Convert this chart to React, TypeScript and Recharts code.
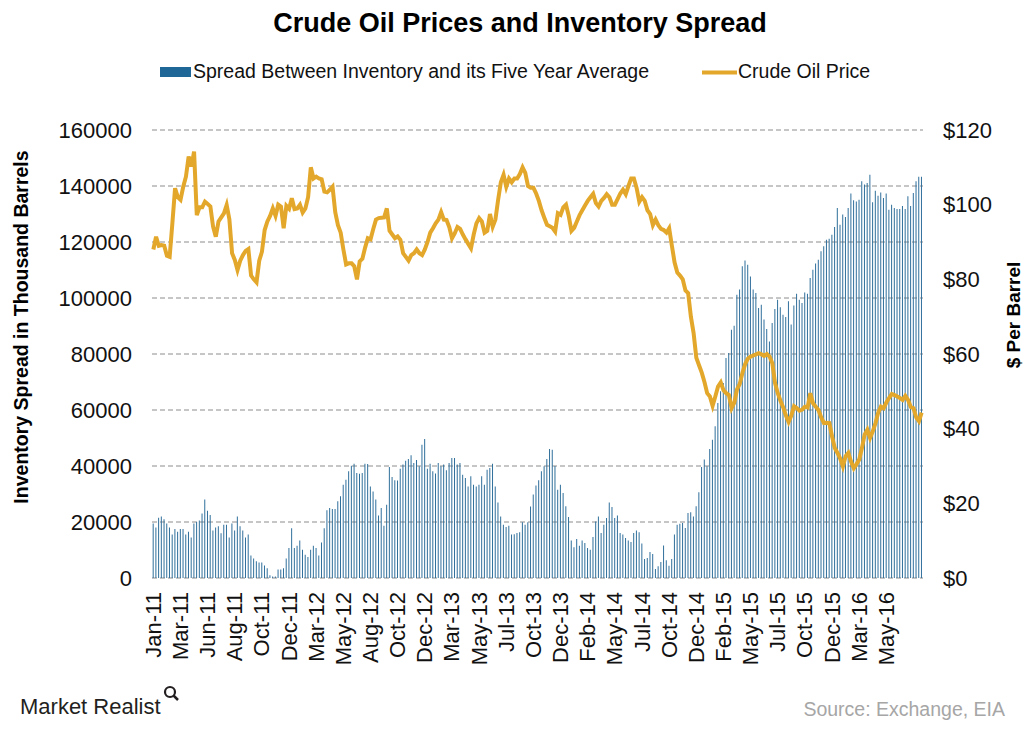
import React from 'react';
import { ComposedChart, Bar, Line, XAxis, YAxis, CartesianGrid } from 'recharts';

// weekly inventory spread vs five-year average (thousand barrels), Jan-11 .. Aug-16
const SPREAD = [
  19500, 18000, 21500, 22000, 21000, 19500, 18000, 15500, 17500, 16500,
  17500, 17500, 15500, 16500, 14500, 19500, 20000, 20500, 23000, 28000,
  24000, 22500, 17000, 18000, 18500, 16000, 19000, 19000, 14500, 19500,
  17000, 22000, 18500, 17000, 14500, 15500, 8000, 7000, 6000, 5500,
  5500, 4500, 3500, 1000, 500, 500, 3000, 3000, 3500, 7000,
  10700, 17800, 10700, 11500, 13400, 10100, 8300, 7500, 10100, 11500,
  10700, 8000, 12700, 17800, 24200, 25000, 24600, 24600, 27400, 29200,
  33300, 35100, 38100, 40100, 40800, 37500, 37200, 37500, 40800, 40700,
  32700, 30900, 28000, 22300, 25000, 18700, 26200, 39600, 36100, 34900,
  34800, 39000, 40500, 41900, 42500, 43800, 41100, 42100, 39900, 47600,
  49600, 39000, 40800, 38100, 37300, 41100, 39900, 40500, 38500, 41100,
  42900, 42900, 40500, 41100, 36900, 35700, 32700, 36300, 33300, 32700,
  33300, 36300, 33300, 38700, 39300, 40800, 32700, 27000, 22000, 19000,
  18200, 18700, 15500, 15600, 16100, 16300, 19900, 19000, 19900, 25500,
  29800, 33000, 34900, 38100, 39900, 42500, 46100, 45800, 40000, 31500,
  33300, 30400, 25600, 21800, 13400, 11000, 13900, 11500, 13400, 12500,
  10700, 10100, 14600, 20200, 22000, 16100, 19000, 21400, 27000, 25400,
  21400, 22300, 16100, 15500, 14300, 13400, 12900, 16100, 17000, 16300,
  12300, 6800, 7100, 9300, 8600, 3200, 4200, 5700, 11600, 6300,
  4400, 6800, 15500, 19000, 19400, 19600, 17900, 23200, 23500, 22000,
  25600, 30600, 39600, 42300, 39900, 46100, 49400, 54200, 62500, 66700,
  69600, 78600, 80400, 88700, 90100, 101200, 103000, 111300, 113400, 111900,
  107700, 103000, 101800, 96400, 97600, 92300, 88900, 84500, 91100, 96100,
  99400, 96700, 94000, 93200, 98800, 90500, 97300, 101500, 99400, 98200,
  102000, 101500, 107100, 110100, 112300, 113700, 116700, 118500, 120800, 121200,
  122600, 125400, 132100, 126200, 129800, 128900, 132100, 137300, 134900, 134500,
  135100, 141700, 140500, 141100, 144000, 134200, 138300, 136500, 137700, 135700,
  137300, 131500, 133300, 132100, 131800, 131800, 132900, 131800, 136300, 132900,
  137500, 141700, 143300, 143300,
];

// weekly crude oil price ($ per barrel)
const PRICE = [
  88, 91.4, 89, 89.2, 89, 86.3, 86, 95, 104.4, 102,
  101.3, 104.8, 107.5, 112.9, 110.2, 114.2, 97.2, 99.3, 99.3, 100.8,
  100.2, 99.5, 94.1, 91.4, 95.5, 96.6, 97.7, 99.9, 96.1, 87,
  85.2, 82.5, 85, 86.5, 87.6, 88.1, 81, 80, 79.2, 85,
  87.4, 93.2, 95.5, 97, 99, 97, 100, 99.5, 93.7, 99.7,
  98.9, 101.7, 98.8, 99, 100, 97.9, 99, 102, 110, 107,
  107.5, 107, 106.8, 103.5, 103.3, 104, 104.8, 98, 94.5, 92.5,
  88, 84, 84.3, 84.3, 83.5, 80, 84.8, 85.5, 88.5, 91,
  90.7, 93.5, 96, 96.4, 96.5, 96.6, 99, 93, 92, 91,
  91.5, 90.6, 87, 86, 85, 86.5, 87, 88, 87, 86.5,
  88, 90, 92.5, 93.7, 95, 96, 98, 96, 95.9, 94,
  91, 92.3, 94, 93.5, 92, 90.7, 89.5, 88.3, 92, 95,
  96.4, 95.5, 92.5, 93, 97.5, 94.1, 96, 101.3, 106, 108,
  104.8, 107, 106, 107, 107, 108.2, 110, 108.5, 105, 104.5,
  104.5, 103, 101, 98.5, 96.5, 94.6, 94.2, 93.8, 92.8, 97.7,
  97.3, 99.3, 100, 97, 93, 93.8, 95.5, 97.2, 98.5, 99.8,
  101, 102, 102.9, 100.4, 99.5, 101, 101.8, 102.8, 102, 100,
  100, 101.5, 103, 104, 102.8, 105, 107, 107, 104.5, 100.8,
  102, 101, 98.5, 97.5, 94.5, 96, 94.5, 93.5, 93.2, 92.5,
  93.7, 89, 84.5, 81.8, 81, 80, 77, 76.3, 70, 65.6,
  59, 57, 55, 52.5, 49.5, 48.6, 46.1, 48.6, 51.3, 52.4,
  50.3, 49.5, 49, 45.5, 47, 50.5, 52, 55, 57.3, 58.8,
  59.3, 59.6, 59.9, 60.2, 59.9, 59.5, 60, 59.3, 57.5, 52.2,
  49.5, 47.5, 45.7, 43.5, 41.8, 43.5, 46, 45.5, 44.8, 45.1,
  45.9, 45.7, 49.5, 46.8, 45.9, 45, 43, 41.5, 41.6, 41.5,
  37.9, 34.8, 33.5, 32, 29.9, 32.6, 33.5, 31.2, 29.4, 30.5,
  31.7, 34.8, 38.4, 39.7, 37.5, 39.3, 41.5, 44.3, 45.9, 45.5,
  47, 48.2, 49.3, 49, 48.6, 48.2, 47.7, 48.8, 47.7, 45.8,
  45.5, 43, 42, 44.3,
];

// one date label every TICK_STEP weeks
const TICK_LABELS = [
  'Jan-11', 'Mar-11', 'Jun-11', 'Aug-11', 'Oct-11', 'Dec-11', 'Mar-12', 'May-12',
  'Aug-12', 'Oct-12', 'Dec-12', 'Mar-13', 'May-13', 'Jul-13', 'Oct-13', 'Dec-13',
  'Feb-14', 'May-14', 'Jul-14', 'Oct-14', 'Dec-14', 'Feb-15', 'May-15', 'Jul-15',
  'Oct-15', 'Dec-15', 'Mar-16', 'May-16',
];
const TICK_STEP = 10;

const LEFT_TICKS = [0, 20000, 40000, 60000, 80000, 100000, 120000, 140000, 160000];
const RIGHT_TICKS = [0, 20, 40, 60, 80, 100, 120];

const FONT = "'Liberation Sans', Arial, Helvetica, sans-serif";
const BLUE = '#1f6796';
const BAR_BLUE = '#2f6f9b';
const GOLD = '#e3a82b';

const data = SPREAD.map((spread, i) => ({ week: i, spread, price: PRICE[i] }));

function DateTick(props: any) {
  const { x, y, payload } = props;
  const label = TICK_LABELS[Math.round(payload.value / TICK_STEP)];
  if (payload.value % TICK_STEP !== 0 || !label) return null;
  return (
    <text
      x={x}
      y={y}
      transform={`rotate(-90 ${x} ${y})`}
      textAnchor="end"
      dominantBaseline="central"
      fontSize={22}
      fill="#111"
      fontFamily={FONT}
    >
      {label}
    </text>
  );
}

function LeftTitle() {
  return (
    <text x={21} y={327} transform="rotate(-90 21 327)" textAnchor="middle" dominantBaseline="central"
      fontSize={19.5} fontWeight="bold" fill="#000" fontFamily={FONT}>
      Inventory Spread in Thousand Barrels
    </text>
  );
}

function RightTitle() {
  return (
    <text x={1013} y={315} transform="rotate(-90 1013 315)" textAnchor="middle" dominantBaseline="central"
      fontSize={19} fontWeight="bold" fill="#000" fontFamily={FONT}>
      $ Per Barrel
    </text>
  );
}

export default function App() {
  return (
    <div style={{ position: 'absolute', left: 0, top: 0, width: 1024, height: 732, background: '#fff' }}>
      <ComposedChart
        width={1024}
        height={732}
        data={data}
        margin={{ top: 130, right: 0, bottom: 0, left: 0 }}
        barCategoryGap="25%"
      >
        <CartesianGrid yAxisId="left" vertical={false} stroke="#8c8c8c" strokeDasharray="5 3" />
        <XAxis
          dataKey="week"
          type="category"
          height={154}
          interval={TICK_STEP - 1}
          tick={<DateTick />}
          tickLine={false}
          axisLine={false}
          tickMargin={8}
        />
        <YAxis
          yAxisId="left"
          width={152}
          domain={[0, 160000]}
          ticks={LEFT_TICKS}
          interval={0}
          tickLine={false}
          axisLine={false}
          tickMargin={14}
          tick={{ fontSize: 22, fill: '#111', fontFamily: FONT }}
          label={<LeftTitle />}
        />
        <YAxis
          yAxisId="right"
          orientation="right"
          width={101}
          domain={[0, 120]}
          ticks={RIGHT_TICKS}
          interval={0}
          tickLine={false}
          axisLine={false}
          tickMargin={14}
          tickFormatter={(v) => `$${v}`}
          tick={{ fontSize: 22, fill: '#111', fontFamily: FONT }}
          label={<RightTitle />}
        />
        <Bar yAxisId="left" dataKey="spread" fill={BAR_BLUE} isAnimationActive={false} />
        <Line
          yAxisId="right"
          dataKey="price"
          type="linear"
          stroke={GOLD}
          strokeWidth={4}
          dot={false}
          activeDot={false}
          isAnimationActive={false}
        />
      </ComposedChart>

      <svg width={1024} height={732} style={{ position: 'absolute', left: 0, top: 0, pointerEvents: 'none' }}
        fontFamily={FONT}>
        <text x={520} y={32} textAnchor="middle" fontSize={27} fontWeight="bold" fill="#000">
          Crude Oil Prices and Inventory Spread
        </text>

        <rect x={160} y={67} width={31} height={10} fill={BLUE} />
        <text x={193} y={78} fontSize={19.5} fill="#111">Spread Between Inventory and its Five Year Average</text>
        <rect x={702} y={70.5} width={35} height={4} fill={GOLD} />
        <text x={738} y={78} fontSize={19.5} fill="#111">Crude Oil Price</text>

        <text x={20} y={714} fontSize={22} fill="#231f20">Market Realist</text>
        <circle cx={170} cy={692} r={5} fill="none" stroke="#231f20" strokeWidth={2.2} />
        <line x1={173.5} y1={695.5} x2={178} y2={700} stroke="#231f20" strokeWidth={2.5} />
        <text x={1005} y={716} textAnchor="end" fontSize={19.5} fill="#a6a6a6">Source: Exchange, EIA</text>
      </svg>
    </div>
  );
}
